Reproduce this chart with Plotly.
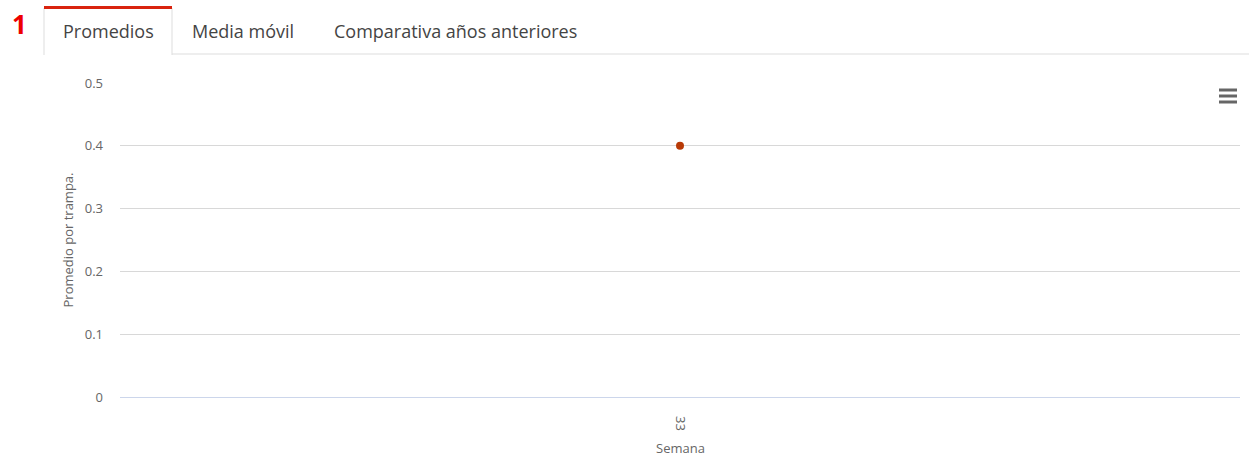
import plotly.graph_objects as go

categories = ["33"]
values = [0.4]
y_ticks = [0, 0.1, 0.2, 0.3, 0.4, 0.5]
tabs = ["Promedios", "Media móvil", "Comparativa años anteriores"]
tab_x_px = [108, 243, 455]
x_title = "Semana"
y_title = "Promedio por trampa."

W, H = 1249, 457
L, R, T, B = 120, 9, 83, 60
pw, ph = W - L - R, H - T - B

def px(x):
    return (x - L) / pw

def py(y):
    return (H - B - y) / ph

fig = go.Figure()
fig.add_trace(go.Scatter(
    x=categories, y=values, mode="markers",
    marker=dict(color="#b83a06", size=8, line=dict(width=0)),
    hoverinfo="x+y", showlegend=False,
))

font = "Open Sans, Noto Sans, sans-serif"
shapes = []
# tab bottom line
shapes.append(dict(type="line", xref="paper", yref="paper", x0=px(172), x1=px(1249), y0=py(54), y1=py(54),
                   line=dict(color="#dddddd", width=1)))
# active tab borders
shapes.append(dict(type="line", xref="paper", yref="paper", x0=px(44), x1=px(44), y0=py(8), y1=py(55),
                   line=dict(color="#dddddd", width=1)))
shapes.append(dict(type="line", xref="paper", yref="paper", x0=px(172), x1=px(172), y0=py(8), y1=py(55),
                   line=dict(color="#dddddd", width=1)))
shapes.append(dict(type="line", xref="paper", yref="paper", x0=px(44), x1=px(172), y0=py(7.5), y1=py(7.5),
                   line=dict(color="#d9230f", width=3)))
# hamburger menu
for yy in [90, 96, 102]:
    shapes.append(dict(type="line", xref="paper", yref="paper", x0=px(1219), x1=px(1237), y0=py(yy), y1=py(yy),
                       line=dict(color="#666666", width=3)))

annotations = [dict(text="<b>1</b>", x=px(19), y=py(24), xref="paper", yref="paper", showarrow=False,
                    font=dict(family=font, size=26, color="#ee0000"), xanchor="center", yanchor="middle")]
for t, xx in zip(tabs, tab_x_px):
    annotations.append(dict(text=t, x=px(xx), y=py(31), xref="paper", yref="paper", showarrow=False,
                            font=dict(family=font, size=18, color="#444444"), xanchor="center", yanchor="middle"))
annotations.append(dict(text=x_title, x=0.5, y=py(448), xref="paper", yref="paper", showarrow=False,
                        font=dict(family=font, size=13, color="#666666"), xanchor="center", yanchor="middle"))

fig.update_layout(
    width=W, height=H,
    margin=dict(l=L, r=R, t=T, b=B, pad=0, autoexpand=False),
    paper_bgcolor="white", plot_bgcolor="white",
    font=dict(family=font, color="#666666", size=13),
    shapes=shapes, annotations=annotations,
    xaxis=dict(type="category", range=[-0.5, 0.5], showgrid=False, zeroline=False, showline=False,
               tickangle=90, tickfont=dict(size=13, color="#666666"), ticklabelstandoff=18,
               automargin=False, ticks="", fixedrange=True),
    yaxis=dict(range=[0, 0.5], tickvals=y_ticks, ticktext=["0", "0.1", "0.2", "0.3", "0.4", "0.5"],
               showgrid=True, gridcolor="#d8d8d8", gridwidth=1, zeroline=True, zerolinecolor="#ccd6eb",
               zerolinewidth=1, showline=False, ticks="", ticklabelstandoff=16,
               tickfont=dict(size=13, color="#666666"),
               title=dict(text=y_title, font=dict(size=13, color="#666666"), standoff=8),
               fixedrange=True),
)

fig.write_html("out.html", config=dict(displayModeBar=False),
               post_script="document.body.style.margin='0';document.body.style.padding='0';")
